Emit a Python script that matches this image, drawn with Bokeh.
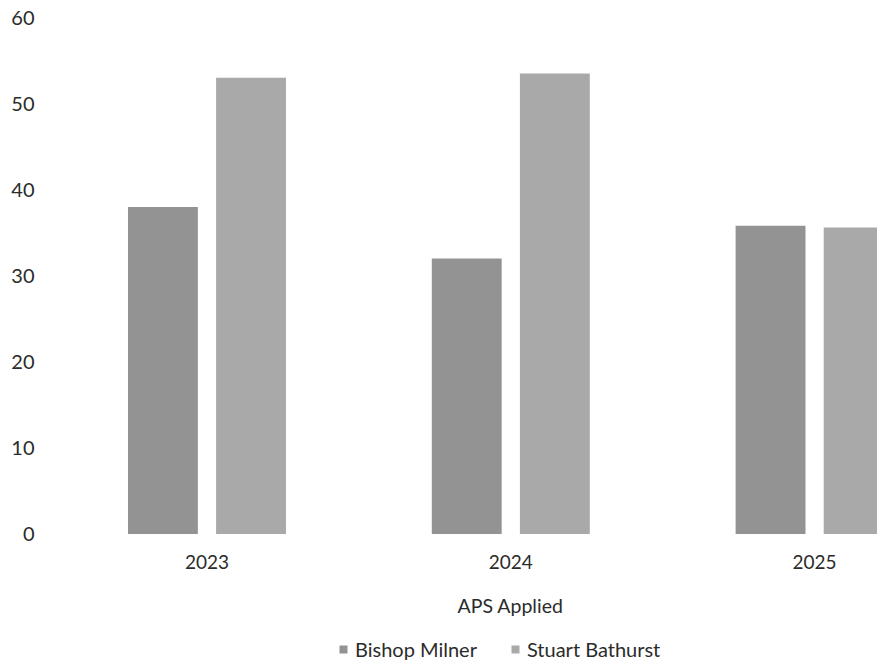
from bokeh.plotting import figure
from bokeh.models import FixedTicker, Legend, LegendItem, Label, Range1d
from bokeh.embed import file_html
from bokeh.resources import INLINE
import numpy as np

years = ["2023", "2024", "2025"]
bishop_milner = [38.0, 32.0, 35.8]
stuart_bathurst = [53.0, 53.5, 35.6]
y_ticks = [0, 10, 20, 30, 40, 50, 60]
series_names = ["Bishop Milner", "Stuart Bathurst"]

FONT = "Lato"
TXT = "#2b2b2b"
C_BM = "#939393"
C_SB = "#a9a9a9"

W, H = 877, 666
TOP, LEFT = 17, 57
p = figure(width=W, height=H, output_backend="svg", toolbar_location=None,
           x_range=Range1d(-0.492, 2.207), y_range=Range1d(-15.39, 60),
           min_border_left=LEFT, min_border_top=TOP, min_border_right=0,
           min_border_bottom=0)
p.outline_line_color = None
p.grid.visible = False
p.background_fill_color = "white"

idx = np.arange(len(years))
r1 = p.vbar(x=idx - 0.145, top=bishop_milner, width=0.23, fill_color=C_BM, line_color=None)
r2 = p.vbar(x=idx + 0.145, top=stuart_bathurst, width=0.23, fill_color=C_SB, line_color=None)

p.xaxis.fixed_location = 0
p.xaxis.ticker = FixedTicker(ticks=list(idx))
p.xaxis.major_label_overrides = {int(i): y for i, y in zip(idx, years)}
p.yaxis.ticker = FixedTicker(ticks=y_ticks)
for ax in (p.xaxis[0], p.yaxis[0]):
    ax.axis_line_color = None
    ax.major_tick_line_color = None
    ax.minor_tick_line_color = None
    ax.major_tick_out = 0
    ax.major_tick_in = 0
    ax.minor_tick_out = 0
    ax.major_label_text_font = FONT
    ax.major_label_text_color = TXT
p.xaxis.major_label_text_font_size = "19px"
p.yaxis.major_label_text_font_size = "20px"
p.yaxis.major_label_standoff = 23
p.xaxis.major_label_standoff = 21

lab = Label(x=453, y=61, x_units="screen", y_units="screen", text="APS Applied",
            text_align="center", text_baseline="middle", text_font=FONT,
            text_font_size="19.5px", text_color=TXT)
p.add_layout(lab)

legend = Legend(items=[LegendItem(label=series_names[0], renderers=[r1]),
                       LegendItem(label=series_names[1], renderers=[r2])],
                location=(281, 5), orientation="horizontal",
                glyph_width=10, glyph_height=10, label_standoff=7, spacing=33,
                padding=0, margin=0, border_line_color=None, background_fill_alpha=0,
                label_text_font=FONT, label_text_font_size="20px", label_text_color=TXT)
p.add_layout(legend, "center")

open("out.html", "w").write(file_html(p, INLINE))
